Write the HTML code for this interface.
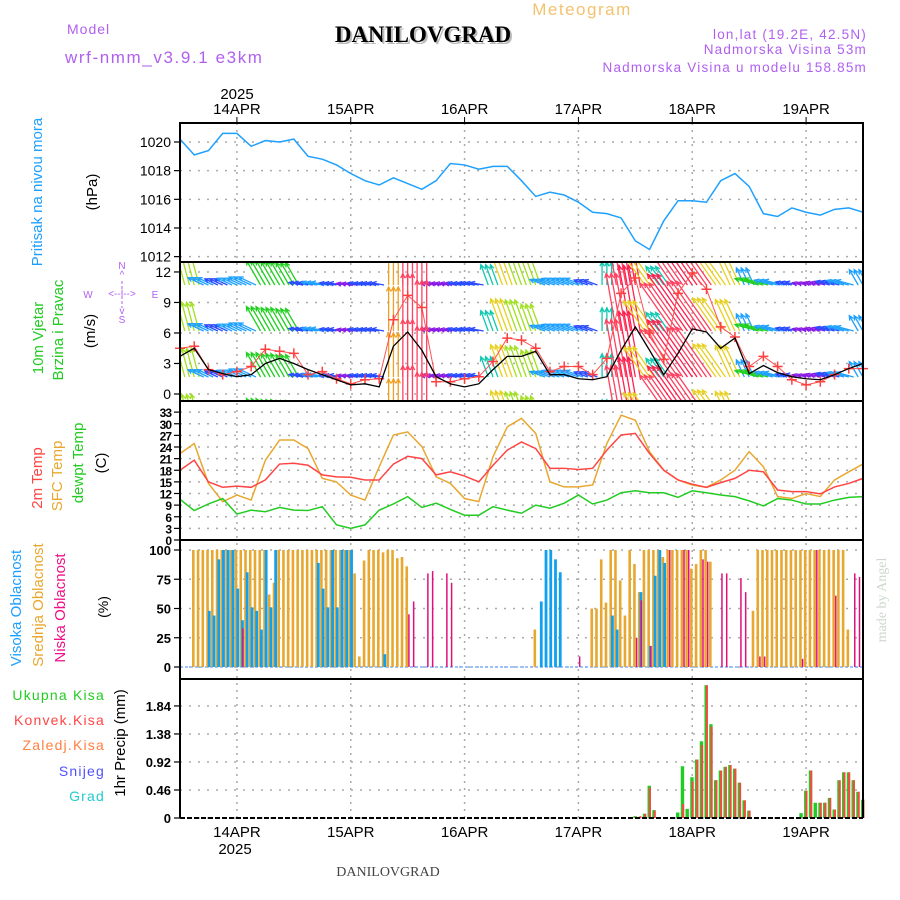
<!DOCTYPE html>
<html><head><meta charset="utf-8"><style>
html,body{margin:0;padding:0;background:#fff;}
svg{display:block;font-family:"Liberation Sans",sans-serif;}
</style></head><body>
<svg id="chart" width="900" height="900" viewBox="0 0 900 900" xmlns="http://www.w3.org/2000/svg">
<defs>
<clipPath id="clipW"><rect x="180" y="263" width="683" height="137"/></clipPath>
</defs>
<rect width="900" height="900" fill="#fff"/>
<text x="582" y="15" font-size="17" fill="#f2c36e" text-anchor="middle" letter-spacing="1.5">Meteogram</text>
<text x="67" y="34" font-size="14" fill="#b060f0" letter-spacing="1">Model</text>
<text x="65" y="63" font-size="17" fill="#b060f0" letter-spacing="1.6">wrf-nmm_v3.9.1 e3km</text>
<text x="425" y="44" font-size="23" font-weight="bold" font-family="Liberation Serif,serif" fill="#bbb" text-anchor="middle">DANILOVGRAD</text>
<text x="423" y="42" font-size="23" font-weight="bold" font-family="Liberation Serif,serif" fill="#000" text-anchor="middle">DANILOVGRAD</text>
<text x="867" y="39" font-size="13.5" fill="#b060f0" text-anchor="end" letter-spacing="1.2">lon,lat (19.2E, 42.5N)</text>
<text x="867" y="54" font-size="13.5" fill="#b060f0" text-anchor="end" letter-spacing="1.2">Nadmorska Visina 53m</text>
<text x="867" y="72" font-size="13.5" fill="#b060f0" text-anchor="end" letter-spacing="1.2">Nadmorska Visina u modelu 158.85m</text>
<text x="237" y="99" font-size="15" fill="#000" text-anchor="middle">2025</text>
<text transform="translate(42,192) rotate(-90)" font-size="15" fill="#1ea0ff" text-anchor="middle">Pritisak na nivou mora</text>
<text transform="translate(97,192) rotate(-90)" font-size="15" fill="#000" text-anchor="middle">(hPa)</text>
<text transform="translate(43,338) rotate(-90)" font-size="15" fill="#22cc22" text-anchor="middle">10m Vjetar</text>
<text transform="translate(63,330) rotate(-90)" font-size="15" fill="#22cc22" text-anchor="middle">Brzina i Pravac</text>
<text transform="translate(95,331) rotate(-90)" font-size="15" fill="#000" text-anchor="middle">(m/s)</text>
<g fill="#b060f0" font-size="10" text-anchor="middle">
<text x="122" y="269">N</text><text x="122" y="278">^</text><text x="88" y="298">W</text><text x="155" y="298">E</text>
<text x="122" y="323">S</text><text x="122" y="314">v</text>
<text x="122" y="297" font-size="10">&lt;--|--&gt;</text>
<line x1="122" y1="281" x2="122" y2="308" stroke="#b060f0" stroke-dasharray="3,2"/>
</g>
<text transform="translate(42,478) rotate(-90)" font-size="15" fill="#ff4444" text-anchor="middle">2m Temp</text>
<text transform="translate(62,476) rotate(-90)" font-size="15" fill="#e8a830" text-anchor="middle">SFC Temp</text>
<text transform="translate(83,463) rotate(-90)" font-size="15" fill="#22cc22" text-anchor="middle">dewpt Temp</text>
<text transform="translate(106,463) rotate(-90)" font-size="15" fill="#000" text-anchor="middle">(C)</text>
<text transform="translate(21,608) rotate(-90)" font-size="15" fill="#1ea0ff" text-anchor="middle">Visoka Oblacnost</text>
<text transform="translate(43,605) rotate(-90)" font-size="15" fill="#e8a830" text-anchor="middle">Srednja Oblacnost</text>
<text transform="translate(65,608) rotate(-90)" font-size="15" fill="#ee1188" text-anchor="middle">Niska Oblacnost</text>
<text transform="translate(108,607) rotate(-90)" font-size="14" fill="#000" text-anchor="middle">(%)</text>
<g font-size="14" text-anchor="end" letter-spacing="1.2">
<text x="105" y="700" fill="#22cc22">Ukupna Kisa</text>
<text x="105" y="725" fill="#ff4444">Konvek.Kisa</text>
<text x="105" y="750" fill="#ff8040">Zaledj.Kisa</text>
<text x="105" y="776" fill="#5050ff">Snijeg</text>
<text x="105" y="801" fill="#22cccc">Grad</text>
</g>
<text transform="translate(125,743) rotate(-90)" font-size="15" fill="#000" text-anchor="middle">1hr Precip (mm)</text>
<text x="235" y="854" font-size="15" fill="#000" text-anchor="middle">2025</text>
<text x="388" y="876" font-size="14" font-family="Liberation Serif,serif" fill="#444" text-anchor="middle">DANILOVGRAD</text>
<text transform="translate(886,600) rotate(-90)" font-size="14" font-family="Liberation Serif,serif" fill="#ccd8cc" text-anchor="middle">made by Angel</text>
<g id="plot"></g>
</svg>
<script>
// ---- data ----
const dayLabels = ["14APR","15APR","16APR","17APR","18APR","19APR"];
const dayHours = [12,36,60,84,108,132];
const pressureTicks = [1012,1014,1016,1018,1020];
const windTicks = [0,3,6,9,12];
const tempTicks = [0,3,6,9,12,15,18,21,24,27,30,33];
const cloudTicks = [0,25,50,75,100];
const precipTicks = [0,0.46,0.92,1.38,1.84];
const pressure = [1020.2,1019.1,1019.4,1020.6,1020.6,1019.7,1020.1,1020.0,1020.2,1019.0,1018.8,1018.4,1017.8,1017.3,1017.0,1017.5,1017.1,1016.7,1017.3,1018.5,1018.4,1018.1,1018.3,1018.3,1017.3,1016.2,1016.5,1016.3,1015.8,1015.1,1015.0,1014.7,1013.1,1012.5,1014.5,1015.9,1015.9,1015.8,1017.3,1017.8,1016.9,1015.0,1014.8,1015.4,1015.1,1014.9,1015.3,1015.4,1015.1];
const windSpeed = [3.7,4.5,2.4,2.0,1.7,1.9,3.0,3.5,3.0,2.4,1.9,1.4,0.9,1.0,0.7,4.7,6.1,4.3,1.7,1.0,0.7,1.0,2.4,3.7,3.7,4.2,1.9,1.9,1.5,1.4,1.7,4.3,6.6,4.3,1.9,4.0,6.4,6.1,4.5,5.5,2.0,2.8,2.1,1.7,1.5,1.4,1.9,2.5,3.0];
const windGust = [4.5,4.7,2.4,1.9,2.2,2.7,4.4,4.2,4.0,1.9,2.2,1.5,1.0,1.4,1.5,7.3,9.7,8.5,1.2,1.2,1.5,1.7,3.2,5.5,5.3,4.5,2.2,2.7,2.7,1.9,3.5,9.9,11.4,6.0,3.4,9.9,11.9,10.3,6.6,5.6,2.7,3.7,2.7,1.4,0.9,1.2,1.9,2.5,2.5];
const windDir = [345,345,295,295,295,295,330,330,330,280,280,280,280,280,280,0,0,0,280,280,280,280,340,340,340,340,290,290,290,290,0,350,350,325,325,325,325,325,325,335,335,285,285,285,285,285,285,285,330];
const temp2m = [18.0,20.6,15.0,13.6,13.9,13.6,15.5,19.6,19.8,19.3,16.8,16.3,16.2,15.5,15.5,19.6,21.6,21.0,16.8,17.6,16.5,15.0,19.3,23.2,25.3,23.6,18.5,18.5,18.2,18.5,23.2,27.1,27.5,22.3,18.0,15.5,14.4,13.6,14.8,15.9,18.0,17.6,12.9,12.5,12.5,11.9,13.7,14.6,15.9];
const tempSfc = [22.3,24.9,14.6,9.9,11.6,10.3,20.6,25.8,25.8,23.6,15.9,15.0,11.6,10.3,18.9,27.1,27.9,24.1,16.3,14.6,10.7,9.9,21.5,29.2,31.4,27.5,15.0,13.7,13.7,14.2,24.9,32.2,30.9,22.8,18.0,15.5,14.2,13.6,15.5,18.0,22.8,18.9,11.2,10.7,12.0,11.2,15.5,17.6,19.6];
const dewpoint = [10.5,7.6,9.3,10.7,6.7,7.7,7.3,8.4,7.7,7.6,8.6,3.9,3.0,3.9,7.7,9.3,11.2,8.4,9.5,7.9,6.4,6.4,8.6,7.7,6.9,9.0,8.2,9.5,11.6,9.3,10.3,12.2,12.7,12.2,12.2,11.0,12.7,12.2,11.6,11.2,10.1,8.8,10.7,10.3,9.3,9.3,10.3,11.0,11.2];
const cloudMid = [0,0,0,100,100,100,100,100,100,100,100,100, 100,100,100,100,100,100,100,62,72,100,100,100, 100,100,100,100,100,100,100,100,100,100,100,100, 100,80,9,91,100,100,100,98,100,100,93,94, 86,0,0,0,0,0,0,0,0,0,0,0, 0,0,0,0,0,0,0,0,0,0,0,0, 0,0,0,32,0,0,0,0,0,0,0,0, 0,0,0,50,50,92,55,100,100,74,44,100, 88,64,100,100,100,100,94,100,100,100,100,100, 84,88,100,100,90,0,0,0,0,0,0,0, 0,48,100,100,100,100,100,100,100,100,100,100, 100,100,100,100,100,100,100,100,100,32,0,0, 0];
const cloudHigh = [0,0,0,0,0,0,48,44,92,100,100,100, 67,40,81,51,48,32,100,51,100,0,0,0, 0,0,0,0,0,89,67,51,100,51,100,100, 100,0,0,0,0,0,0,11,0,0,0,0, 0,0,0,0,0,0,0,0,0,0,0,0, 0,0,0,0,0,0,0,0,0,0,0,0, 0,0,0,0,56,100,100,92,81,0,0,0, 0,0,0,0,0,0,0,44,32,0,0,0, 0,64,0,18,78,100,89,0,0,0,0,0, 0,0,0,0,0,0,0,0,0,0,0,0, 0,0,0,0,0,0,0,0,0,0,0,0, 0,0,0,0,0,0,0,0,0,0,0,0, 0];
const lowHours = [13,48,49,52,53,56,57,84,96,97,99,103,106,107,110,111,114,115,118,119,122,123,131,134,138,142,143];
const lowValues = [33,45,56,80,82,80,72,9,25,57,18,100,100,100,92,90,80,80,76,64,9,9,7,100,61,80,77];
const precipHours = [96,97,98,99,100,105,106,107,108,109,110,111,112,113,114,115,116,117,118,119,120,131,132,133,134,135,136,137,138,139,140,141,142,143,144];
const precipTotal = [0.03,0.02,0.07,0.53,0.13,0.09,0.85,0.15,0.67,0.96,1.26,2.18,1.54,0.62,0.78,0.84,0.87,0.81,0.58,0.29,0.12,0.08,0.45,0.78,0.25,0.25,0.25,0.33,0.14,0.62,0.75,0.75,0.62,0.43,0.30];
const precipConv = [0.02,0.03,0.07,0.50,0.12,0,0.23,0,0.60,0.96,1.20,2.18,1.50,0.62,0.78,0.84,0.87,0.81,0.58,0.29,0.12,0,0.45,0.78,0,0.25,0.25,0.33,0.14,0.62,0.75,0.75,0.62,0.43,0.30];

// ---- scales ----
const L=180,R=863;
function X(h){return L+h*(R-L)/144;}
function yP(p){return 142+(1020-p)*14.33;}
function yW(v){return 394-v*10.17;}
function yT(t){return 540-t*3.875;}
function yC(c){return 667-c*1.17;}
function yR(r){return 818-r*60.9;}
const NS="http://www.w3.org/2000/svg";
const plot=document.getElementById('plot');
function mk(tag,attrs,parent){const e=document.createElementNS(NS,tag);for(const k in attrs)e.setAttribute(k,attrs[k]);(parent||plot).appendChild(e);return e;}
function h3(i){return i*3;}

const panels=[[123,262],[262,401],[401,540],[540,679],[679,818]];
dayHours.forEach(function(h){
  const g=mk('line',{x1:X(h),x2:X(h),y1:123,y2:818,stroke:'#aaa','stroke-width':1.5,'stroke-dasharray':'2,5'});
  
  
});
function hgrid(ticks,f,name){
  ticks.forEach(function(t){
    const g=mk('line',{x1:L,x2:R,y1:f(t),y2:f(t),stroke:'#aaa','stroke-width':1.5,'stroke-dasharray':'2,7'});
    
    
    const tk=mk('line',{x1:L-6,x2:L,y1:f(t),y2:f(t),stroke:'#000','stroke-width':1.2});
    
    
  });
}
hgrid(pressureTicks,yP,'pressure');hgrid(windTicks,yW,'wind');hgrid(tempTicks,yT,'temp');hgrid(cloudTicks,yC,'cloud');hgrid(precipTicks,yR,'precip');

function ylabels(ticks,f,name,fs,fmt,extra){
  ticks.forEach(function(t){
    const e=mk('text',{x:171,y:f(t)+5,'font-size':fs,'text-anchor':'end',fill:'#000'});
    if(extra)for(const k in extra)e.setAttribute(k,extra[k]);
    e.textContent=fmt?fmt(t):t;
    
    
  });
}
ylabels(pressureTicks,yP,'pressure',14);
ylabels(windTicks,yW,'wind',14);
ylabels(tempTicks,yT,'temp',12,null,{'font-weight':'bold','letter-spacing':'-1'});
ylabels(cloudTicks,yC,'cloud',13,null,{'font-weight':'bold'});
ylabels(precipTicks,yR,'precip',13,function(t){return t===0?'0':t.toFixed(2);},{'font-weight':'bold'});

dayHours.forEach(function(h,i){
  const t1=mk('text',{x:X(h),y:114,'font-size':15,'text-anchor':'middle',fill:'#000'});
  t1.textContent=dayLabels[i];
  
  
  const k=mk('line',{x1:X(h),x2:X(h),y1:117,y2:123,stroke:'#000'});
  
  
  const t2=mk('text',{x:X(h),y:837,'font-size':15,'text-anchor':'middle',fill:'#000'});
  t2.textContent=dayLabels[i];
  
  
});

const pp=mk('polyline',{points:pressure.map(function(v,i){return X(h3(i))+','+yP(v);}).join(' '),fill:'none',stroke:'#1ea0ff','stroke-width':1.5});



function windColor(g){
  if(g<1.3)return '#8a1ae6';
  if(g<2.0)return '#2a4cff';
  if(g<2.8)return '#1ea0ff';
  if(g<3.6)return '#10c8b0';
  if(g<4.5)return '#20d020';
  if(g<5.5)return '#a0e020';
  if(g<7)return '#e8d020';
  if(g<8.5)return '#f0a020';
  if(g<10.5)return '#ff4060';
  return '#ff2050';
}
const wg=mk('g',{'clip-path':'url(#clipW)'});


[239,285,331,377,423].forEach(function(base){
  windGust.forEach(function(g,i){
    const a=windDir[i]*Math.PI/180, len=5.5*g+4, c=windColor(g);
    [-1.6,0,1.6].forEach(function(off){
      const x=X(h3(i))+off*3;
      const ex=x+len*Math.sin(a), ey=base-len*Math.cos(a);
      const ar=mk('path',{d:'M'+x+','+base+'L'+ex+','+ey+
        'M'+(ex-5*Math.sin(a-0.45))+','+(ey+5*Math.cos(a-0.45))+'L'+ex+','+ey+'L'+(ex-5*Math.sin(a+0.45))+','+(ey+5*Math.cos(a+0.45)),
        fill:'none',stroke:c,'stroke-width':1.3},wg);
      
      
    });
  });
});
const gl=mk('polyline',{points:windGust.map(function(v,i){return X(h3(i))+','+yW(v);}).join(' '),fill:'none',stroke:'#ff5050','stroke-width':1});


windGust.forEach(function(v,i){
  const x=X(h3(i)),y=yW(v);
  const m=mk('path',{d:'M'+(x-5)+','+y+'H'+(x+5)+'M'+x+','+(y-5)+'V'+(y+5),stroke:'#ff4040','stroke-width':1.5});
  
  
});
const sl=mk('polyline',{points:windSpeed.map(function(v,i){return X(h3(i))+','+yW(v);}).join(' '),fill:'none',stroke:'#000','stroke-width':1.3});



[[tempSfc,'#e8a830','sfc-temp-line'],[temp2m,'#ff4444','temp2m-line'],[dewpoint,'#22cc22','dewpoint-line']].forEach(function(s){
  const l=mk('polyline',{points:s[0].map(function(v,i){return X(h3(i))+','+yT(v);}).join(' '),fill:'none',stroke:s[1],'stroke-width':1.5});
  
  
});

const zl=mk('line',{x1:L,x2:R,y1:yC(0),y2:yC(0),stroke:'#7fb0ff','stroke-width':1.5,'stroke-dasharray':'3,2'});


cloudMid.forEach(function(v,h){
  if(v<=0)return;
  const b=mk('rect',{x:X(h)-2.2,y:yC(v),width:2.6,height:yC(0)-yC(v),fill:'#e8a830'});
  
  
});
cloudHigh.forEach(function(v,h){
  if(v<=0)return;
  const b=mk('rect',{x:X(h)-0.6,y:yC(v),width:2.8,height:yC(0)-yC(v),fill:'#10a0f0'});
  
  
});
lowHours.forEach(function(h,i){
  const v=lowValues[i];
  const b=mk('rect',{x:X(h)+0.5,y:yC(v),width:1.5,height:yC(0)-yC(v),fill:'#e0107a'});
  
  
});

precipHours.forEach(function(h,i){
  const v=precipTotal[i];
  const b=mk('rect',{x:X(h)-2,y:yR(v),width:3.4,height:yR(0)-yR(v),fill:'#22cc22'});
  
  
  const c=precipConv[i];
  if(c>0){
    const r=mk('rect',{x:X(h)-0.6,y:yR(c),width:2,height:yR(0)-yR(c),fill:'#ff4444'});
    
    
  }
});
const pz=mk('line',{x1:L,x2:R,y1:818,y2:818,stroke:'#000','stroke-width':2,'stroke-dasharray':'5,2'});



panels.forEach(function(p,i){
  const f=mk('path',{d:i<4?('M'+L+','+p[0]+'H'+R+'V'+p[1]+'H'+L+'Z'):('M'+L+','+p[0]+'H'+R+'V'+p[1]+'M'+L+','+p[0]+'V'+p[1]),fill:'none',stroke:'#000','stroke-width':2});
  
  
});
</script>
</body></html>
